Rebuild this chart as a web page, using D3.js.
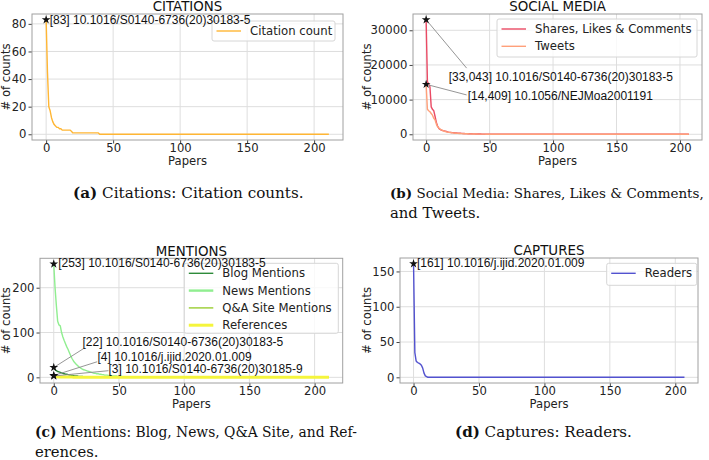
<!DOCTYPE html>
<meta charset="utf-8">
<script src="https://d3js.org/d3.v7.min.js"></script>
<body style="margin:0;background:#fff">
<div id="chart"></div>
</body>
<script>
// values, papers sorted by count (index = paper rank)
const zeros20 = [0,0,0,0,0,0,0,0,0,0,0,0,0,0,0,0,0,0,0,0];
const zeros12 = [0,0,0,0,0,0,0,0,0,0,0,0];
const zeros8 = [0,0,0,0,0,0,0,0];

const citationCount = [83,45,20,17,12,9,7,6,5,5,4,4,3,3,3,3,3,3,3,2,
  1,1,1,1,1,1,1,1,1,1,1,1,1,1,1,1,1,1,1,1,
  ...zeros20,...zeros20,...zeros20,...zeros20,...zeros20,...zeros20,...zeros20,...zeros20,...zeros12];

const sharesLikesComments = [33043,15200,14500,13700,7900,7200,6800,5200,3500,2400,1700,1400,1200,1050,1000,900,800,700,620,550,
  500,460,420,380,350,320,300,280,260,240,220,200,185,170,155,140,130,120,110,100,
  90,80,72,64,56,50,44,38,32,28,24,20,17,14,12,10,8,6,4,2,
  ...zeros20,...zeros20,...zeros20,...zeros20,...zeros20,...zeros20,...zeros20,...zeros8];
const tweets = [14409,7200,6800,6500,6000,5500,4600,4200,3000,2200,1800,1500,1300,1100,900,800,700,600,550,500,
  450,400,350,300,280,260,240,220,200,180,160,150,140,130,120,110,100,90,80,70,
  60,55,50,45,40,35,30,26,22,18,15,12,10,8,6,5,4,3,2,1,
  ...zeros20,...zeros20,...zeros20,...zeros20,...zeros20,...zeros20,...zeros20,...zeros8];

const blogMentions = [22,17,15,13,12,11,10,9,8,7,7,6,5,5,4,4,3,3,3,2,
  2,2,2,1,1,1,1,1,1,1,0,0,0,0,0,0,0,0,0,0,
  ...zeros20,...zeros20,...zeros20,...zeros20,...zeros20,...zeros20,...zeros20,...zeros20,...zeros12];
const newsMentions = [253,200,160,125,117,115,100,90,82,75,68,62,55,48,42,37,33,30,27,24,
  22,20,18,17,16,15,14,13,12,11,10,9,9,8,8,7,7,6,6,5,
  5,5,4,4,4,3,3,3,3,2,2,2,2,1,1,1,1,0,0,0,
  ...zeros20,...zeros20,...zeros20,...zeros20,...zeros20,...zeros20,...zeros20,...zeros12];
const qaMentions = [4,3,2,2,1,1,1,1,1,1,0,0,0,0,0,0,0,0,0,0,
  ...zeros20,...zeros20,...zeros20,...zeros20,...zeros20,...zeros20,...zeros20,...zeros20,...zeros20,...zeros12];
const references = [3,2,2,1,1,1,1,1,1,1,1,1,1,1,1,0,0,0,0,0,
  ...zeros20,...zeros20,...zeros20,...zeros20,...zeros20,...zeros20,...zeros20,...zeros20,...zeros20,...zeros12];

const readers = [161,35,23,21,20,19,17,13,6,2,1,0,0,0,0,0,0,0,0,0,
  ...zeros20,...zeros20,...zeros20,...zeros20,...zeros20,...zeros20,...zeros20,...zeros20,...zeros20,...zeros8];

const xTicks = [0, 50, 100, 150, 200];

const svg = d3.select("#chart").append("svg")
  .attr("width", 709).attr("height", 460)
  .style("font-family", "DejaVu Sans");

const panels = [
  {
    title: "CITATIONS", box: [32, 343, 14, 140], yTicks: [0, 20, 40, 60, 80], ylabX: 10,
    series: [{ name: "Citation count", values: citationCount, color: "#ffb634", w: 1.4 }],
    legend: { x: 212, y: 21, w: 123, h: 20 },
    notes: [{ i: 0, v: 83, text: "[83] 10.1016/S0140-6736(20)30183-5", dx: 3.5, dy: 0.5 }],
    caption: { x: 73, y: 198, bold: "(a)", rest: " Citations: Citation counts.", width: 232 }
  },
  {
    title: "SOCIAL MEDIA", box: [413, 702, 14, 140], yTicks: [0, 10000, 20000, 30000], ylabX: 371,
    series: [
      { name: "Shares, Likes & Comments", values: sharesLikesComments, color: "#ea4a64", w: 1.4 },
      { name: "Tweets", values: tweets, color: "#ffa07a", w: 1.4 }
    ],
    legend: { x: 497, y: 19, w: 200, h: 38 },
    notes: [
      { i: 0, v: 33043, text: "[33,043] 10.1016/S0140-6736(20)30183-5", dx: 22.5, dy: 56.7, lx: 40.5, ly: 48.4 },
      { i: 0, v: 14409, text: "[14,409] 10.1056/NEJMoa2001191", dx: 41.5, dy: 11.3, lx: 40.5, ly: 10.6 }
    ],
    caption: { x: 390, y: 198, bold: "(b)", rest: " Social Media: Shares, Likes & Comments,", width: 314, line2: "and Tweets." }
  },
  {
    title: "MENTIONS", box: [40, 342.7, 258.3, 383], yTicks: [0, 100, 200], ylabX: 10,
    series: [
      { name: "Blog Mentions", values: blogMentions, color: "#2e8b3a", w: 1.4 },
      { name: "News Mentions", values: newsMentions, color: "#90ee90", w: 1.4, lw: 2.4 },
      { name: "Q&A Site Mentions", values: qaMentions, color: "#9acd32", w: 1.4 },
      { name: "References", values: references, color: "#f5f53c", w: 3, lw: 3 }
    ],
    legend: { x: 184.3, y: 263.3, w: 154, h: 70 },
    notes: [
      { i: 0, v: 253, text: "[253] 10.1016/S0140-6736(20)30183-5", dx: 4.4, dy: -1.3 },
      { i: 0, v: 22, text: "[22] 10.1016/S0140-6736(20)30183-5", dx: 28.7, dy: -25.4, lx: 30, ly: -19 },
      { i: 0, v: 4, text: "[4] 10.1016/j.ijid.2020.01.009", dx: 43.7, dy: -18.8, lx: 43.4, ly: -13.8 },
      { i: 0, v: 3, text: "[3] 10.1016/S0140-6736(20)30185-9", dx: 54.7, dy: -7, lx: 54.7, ly: -5.3 }
    ],
    caption: { x: 35, y: 437, bold: "(c)", rest: " Mentions: Blog, News, Q&A Site, and Ref-", width: 322, line2: "erences." }
  },
  {
    title: "CAPTURES", box: [400, 698, 258, 383], yTicks: [0, 50, 100, 150], ylabX: 371,
    series: [{ name: "Readers", values: readers, color: "#5252cf", w: 1.4 }],
    legend: { x: 606.7, y: 263.3, w: 90, h: 22 },
    notes: [{ i: 0, v: 161, text: "[161] 10.1016/j.ijid.2020.01.009", dx: 3.4, dy: -0.7 }],
    caption: { x: 455, y: 437, bold: "(d)", rest: " Captures: Readers.", width: 177 }
  }
];

function pad(lo, hi) {
  const m = (hi - lo) * 0.05;
  return [lo - m, hi + m];
}

panels.forEach(p => {
  const [x0, x1, y0, y1] = p.box;
  const n = d3.max(p.series, s => s.values.length);
  const ymax = d3.max(p.series, s => d3.max(s.values));
  const x = d3.scaleLinear().domain(pad(0, n - 1)).range([x0, x1]);
  const y = d3.scaleLinear().domain(pad(0, ymax)).range([y1, y0]);
  const g = svg.append("g");

  // grid
  g.append("g").selectAll("line").data(xTicks).join("line")
    .attr("x1", d => x(d)).attr("x2", d => x(d)).attr("y1", y0).attr("y2", y1)
    .attr("stroke", "#dedede").attr("stroke-width", 1);
  g.append("g").selectAll("line").data(p.yTicks).join("line")
    .attr("x1", x0).attr("x2", x1).attr("y1", d => y(d)).attr("y2", d => y(d))
    .attr("stroke", "#dedede").attr("stroke-width", 1);

  // axes
  const ax = g.append("g").attr("transform", `translate(0,${y1})`)
    .call(d3.axisBottom(x).tickValues(xTicks).tickSize(3.5).tickPadding(0.5));
  const ay = g.append("g").attr("transform", `translate(${x0},0)`)
    .call(d3.axisLeft(y).tickValues(p.yTicks).tickSize(3.5).tickPadding(2).tickFormat(d3.format("d")));
  [ax, ay].forEach(a => {
    a.select(".domain").remove();
    a.selectAll(".tick line").attr("stroke", "#444");
    a.selectAll("text").attr("font-size", 11.6).attr("font-family", "DejaVu Sans").attr("fill", "#222");
  });

  // lines
  const line = d3.line().x((d, i) => x(i)).y(d => y(d));
  p.series.forEach(s => {
    g.append("path").datum(s.values).attr("d", line)
      .attr("fill", "none").attr("stroke", s.color).attr("stroke-width", s.w)
      .attr("stroke-linejoin", "round");
  });

  // frame
  g.append("rect").attr("x", x0).attr("y", y0).attr("width", x1 - x0).attr("height", y1 - y0)
    .attr("fill", "none").attr("stroke", "#a0a0a0").attr("stroke-width", 1);

  // legend
  const L = p.legend;
  g.append("rect").attr("x", L.x).attr("y", L.y).attr("width", L.w).attr("height", L.h)
    .attr("rx", 2).attr("fill", "#fff").attr("fill-opacity", 0.8).attr("stroke", "#d6d6d6");
  p.series.forEach((s, k) => {
    const cy = L.y + 10 + k * 17.3;
    g.append("line").attr("x1", L.x + 4.5).attr("x2", L.x + 29).attr("y1", cy).attr("y2", cy)
      .attr("stroke", s.color).attr("stroke-width", s.lw || 1.4);
    g.append("text").attr("x", L.x + 38).attr("y", cy).attr("dy", "0.35em")
      .attr("font-size", 11.7).attr("fill", "#222").text(s.name);
  });

  // annotations
  p.notes.forEach(a => {
    const sx = x(a.i), sy = y(a.v);
    if (a.lx !== undefined) {
      g.append("line").attr("x1", sx).attr("y1", sy).attr("x2", sx + a.lx).attr("y2", sy + a.ly)
        .attr("stroke", "#8a8a8a").attr("stroke-width", 0.9);
    }
    g.append("path").attr("d", d3.symbol(d3.symbolStar, 24)())
      .attr("transform", `translate(${sx},${sy})`).attr("fill", "#111");
    g.append("text").attr("x", sx + a.dx).attr("y", sy + a.dy).attr("dy", "0.35em")
      .attr("font-family", "Liberation Sans").attr("font-size", 12).attr("fill", "#111")
      .text(a.text);
  });

  // title and axis labels
  g.append("text").attr("x", (x0 + x1) / 2).attr("y", y0 - 2.6).attr("text-anchor", "middle")
    .attr("font-size", 13.4).attr("fill", "#111").text(p.title);
  g.append("text").attr("x", (x0 + x1) / 2).attr("y", y1 + 24.8).attr("text-anchor", "middle")
    .attr("font-size", 11.6).attr("fill", "#222").text("Papers");
  g.append("text").attr("transform", `translate(${p.ylabX},${(y0 + y1) / 2}) rotate(-90)`)
    .attr("text-anchor", "middle").attr("font-size", 11.6).attr("fill", "#222").text("# of counts");

  // caption: size the first line so it fills the measured line width
  const c = p.caption;
  const t = svg.append("text").attr("x", c.x).attr("y", c.y)
    .attr("font-family", "DejaVu Serif").attr("font-size", 14.8).attr("fill", "#111");
  t.append("tspan").attr("font-weight", "bold").text(c.bold);
  t.append("tspan").text(c.rest);
  const natural = t.node().getComputedTextLength();
  const fs = Math.min(15.2, 14.8 * c.width / natural);
  t.attr("font-size", fs);
  if (c.line2) {
    svg.append("text").attr("x", c.x).attr("y", c.y + 19.5)
      .attr("font-family", "DejaVu Serif").attr("font-size", 14.8).attr("fill", "#111")
      .text(c.line2);
  }
});
</script>
